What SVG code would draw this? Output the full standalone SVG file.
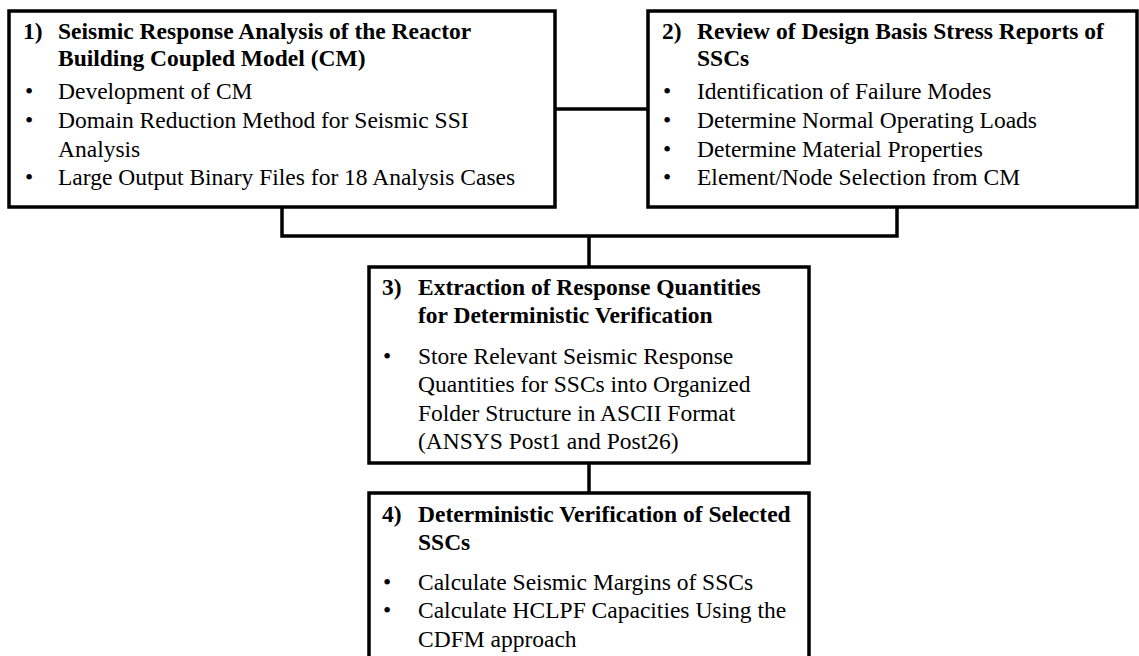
<svg xmlns="http://www.w3.org/2000/svg" width="1139" height="656" viewBox="0 0 1139 656">
<style>
.box{fill:#fff;stroke:#000;stroke-width:3.5}
.con{fill:none;stroke:#000;stroke-width:3.5}
text{font-family:"Liberation Serif","Times New Roman",serif;font-size:23.5px;fill:#000}
.h{font-weight:bold}
</style>
<rect x="0" y="0" width="1139" height="656" fill="#fff"/>
<g id="connectors">
<line class="con" x1="555" y1="109" x2="648" y2="109"/>
<path class="con" d="M282,207 V236 H897 V207"/>
<line class="con" x1="589" y1="236" x2="589" y2="267"/>
<line class="con" x1="589" y1="463" x2="589" y2="493"/>
</g>
<g id="node1">
<rect class="box" x="9" y="11" width="546" height="196"/>
<text class="h" x="23" y="39">1)</text>
<text class="h" x="58" y="39">Seismic Response Analysis of the Reactor</text>
<text class="h" x="58" y="66">Building Coupled Model (CM)</text>
<text x="25" y="99">•</text><text x="58" y="99">Development of CM</text>
<text x="25" y="128">•</text><text x="58" y="128">Domain Reduction Method for Seismic SSI</text>
<text x="58" y="157">Analysis</text>
<text x="25" y="185">•</text><text x="58" y="185">Large Output Binary Files for 18 Analysis Cases</text>
</g>
<g id="node2">
<rect class="box" x="648" y="11" width="489" height="196"/>
<text class="h" x="662" y="39">2)</text>
<text class="h" x="697" y="39">Review of Design Basis Stress Reports of</text>
<text class="h" x="697" y="66">SSCs</text>
<text x="663" y="99">•</text><text x="697" y="99">Identification of Failure Modes</text>
<text x="663" y="128">•</text><text x="697" y="128">Determine Normal Operating Loads</text>
<text x="663" y="157">•</text><text x="697" y="157">Determine Material Properties</text>
<text x="663" y="185">•</text><text x="697" y="185">Element/Node Selection from CM</text>
</g>
<g id="node3">
<rect class="box" x="369" y="267" width="440" height="196"/>
<text class="h" x="382" y="295">3)</text>
<text class="h" x="418" y="295">Extraction of Response Quantities</text>
<text class="h" x="418" y="323">for Deterministic Verification</text>
<text x="383" y="364">•</text><text x="418" y="364">Store Relevant Seismic Response</text>
<text x="418" y="392">Quantities for SSCs into Organized</text>
<text x="418" y="421">Folder Structure in ASCII Format</text>
<text x="418" y="449">(ANSYS Post1 and Post26)</text>
</g>
<g id="node4">
<rect class="box" x="369" y="493" width="440" height="200"/>
<text class="h" x="382" y="522">4)</text>
<text class="h" x="418" y="522">Deterministic Verification of Selected</text>
<text class="h" x="418" y="550">SSCs</text>
<text x="383" y="590">•</text><text x="418" y="590">Calculate Seismic Margins of SSCs</text>
<text x="383" y="618">•</text><text x="418" y="618">Calculate HCLPF Capacities Using the</text>
<text x="418" y="647">CDFM approach</text>
</g>
</svg>
